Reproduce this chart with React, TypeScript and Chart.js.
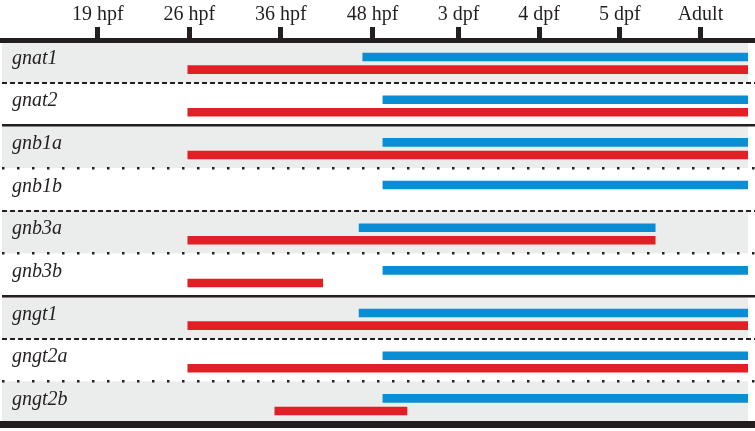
import React, { useEffect, useRef } from "react";
import { Chart, registerables } from "chart.js";

Chart.register(...registerables);

// Developmental stages on the top axis (axis value = stage position)
const STAGE_LABELS = ["19 hpf", "26 hpf", "36 hpf", "48 hpf", "3 dpf", "4 dpf", "5 dpf", "Adult"];
const STAGE_VALUES = [0, 1, 2, 3.0, 3.94, 4.82, 5.7, 6.58];

const GENES = ["gnat1", "gnat2", "gnb1a", "gnb1b", "gnb3a", "gnb3b", "gngt1", "gngt2a", "gngt2b"];

// Blue series (expression window)
const BLUE_START = [2.89, 3.11, 3.11, 3.11, 2.85, 3.11, 2.85, 3.11, 3.11];
const BLUE_END = [7.1, 7.1, 7.1, 7.1, 6.09, 7.1, 7.1, 7.1, 7.1];

// Red series (expression window)
const RED_START = [0.98, 0.98, 0.98, null, 0.98, 0.98, 0.98, 0.98, 1.93];
const RED_END = [7.1, 7.1, 7.1, null, 6.09, 2.46, 7.1, 7.1, 3.38];

// Separator style below each row (except last)
const SEPARATORS = ["dashed", "solid", "dotted", "dashed", "dotted", "solid", "dashed", "dotted"];

const X_MIN = -1.045;
const X_MAX = 7.176;
const BAR_SHIFT = 0.047;

const INK = "#231f20";
const BLUE = "#0a8dd3";
const RED = "#e31e25";
const BAND = "#ebecec";

const bandPlugin = {
  id: "bands",
  beforeDraw(chart: any) {
    const { ctx, chartArea, scales } = chart;
    const y = scales.y;
    const n = GENES.length;
    const h = (chartArea.bottom - chartArea.top) / n;
    ctx.save();
    ctx.fillStyle = BAND;
    for (let i = 0; i < n; i += 2) {
      const c = y.getPixelForValue(i);
      ctx.fillRect(chartArea.left, c - h / 2, chartArea.right - 7 - chartArea.left, h);
    }
    ctx.restore();
  },
};

function toPoints(starts: (number | null)[], ends: (number | null)[]) {
  const out: any[] = [];
  starts.forEach((s, i) => {
    const e = ends[i];
    if (s != null && e != null) out.push({ x: [s, e], y: i });
  });
  return out;
}

const noPad = (s: any) => {
  s.paddingTop = 0;
  s.paddingBottom = 0;
  s.paddingLeft = 0;
  s.paddingRight = 0;
};

export default function App() {
  const ref = useRef<HTMLCanvasElement | null>(null);
  useEffect(() => {
    if (!ref.current) return;
    const chart = new Chart(ref.current, {
      type: "bar",
      data: {
        labels: GENES,
        datasets: [
          {
            label: "blue",
            data: toPoints(BLUE_START, BLUE_END),
            backgroundColor: BLUE,
            borderWidth: 0,
            borderSkipped: false,
            xAxisID: "x",
            yAxisID: "yb",
          },
          {
            label: "red",
            data: toPoints(RED_START, RED_END),
            backgroundColor: RED,
            borderWidth: 0,
            borderSkipped: false,
            xAxisID: "x",
            yAxisID: "yb",
          },
        ],
      },
      options: {
        indexAxis: "y",
        responsive: false,
        animation: false,
        events: [],
        categoryPercentage: 0.59,
        barPercentage: 0.68,
        layout: { padding: { left: 2, right: 0, top: 0, bottom: 7 } },
        plugins: { legend: { display: false }, tooltip: { enabled: false }, title: { display: false } },
        scales: {
          x: {
            type: "linear",
            position: "top",
            min: X_MIN,
            max: X_MAX,
            afterBuildTicks: (s: any) => {
              s.ticks = STAGE_VALUES.map((v) => ({ value: v }));
            },
            afterFit: (s: any) => {
              s.height = 40;
              noPad(s);
            },
            ticks: {
              autoSkip: false,
              maxRotation: 0,
              padding: 0,
              color: INK,
              font: { family: "'Liberation Serif', 'Times New Roman', serif", size: 20 },
              callback: (_v: any, i: number) => STAGE_LABELS[i],
            },
            grid: {
              display: true,
              drawOnChartArea: false,
              drawTicks: true,
              tickLength: 13,
              tickWidth: 5,
              tickColor: INK,
              color: INK,
              lineWidth: 5,
            },
            border: { display: true, width: 5, color: INK },
          },
          x2: {
            type: "linear",
            position: "bottom",
            min: X_MIN,
            max: X_MAX,
            afterFit: (s: any) => {
              s.height = 0;
              noPad(s);
            },
            ticks: { display: false },
            grid: { display: false, drawTicks: false },
            border: { display: true, width: 7, color: INK },
          },
          yb: {
            type: "linear",
            display: false,
            reverse: true,
            offset: false,
            grid: { offset: false },
            min: -0.5 - BAR_SHIFT,
            max: GENES.length - 0.5 - BAR_SHIFT,
            afterBuildTicks: (s: any) => {
              s.ticks = GENES.map((_g, i) => ({ value: i }));
            },
          },
          y: {
            type: "category",
            position: "left",
            offset: true,
            afterFit: (s: any) => {
              s.width = 0;
              noPad(s);
            },
            ticks: {
              mirror: true,
              padding: 10,
              labelOffset: -3,
              color: INK,
              font: { family: "'Liberation Serif', 'Times New Roman', serif", size: 20, style: "italic" },
            },
            grid: {
              offset: true,
              drawTicks: false,
              color: (ctx: any) => {
                const i = ctx.index;
                if (i == null || i === 0 || i > SEPARATORS.length) return "rgba(0,0,0,0)";
                return INK;
              },
              lineWidth: (ctx: any) => {
                const i = ctx.index;
                if (i == null || i === 0 || i > SEPARATORS.length) return 0;
                const st = SEPARATORS[i - 1];
                return st === "dashed" ? 2 : 2.5;
              },
            },
            border: {
              display: false,
              dash: (ctx: any) => {
                const i = ctx.index;
                if (i == null || i === 0 || i > SEPARATORS.length) return [];
                const st = SEPARATORS[i - 1];
                if (st === "dashed") return [5, 3];
                if (st === "dotted") return [2.5, 12.5];
                return [];
              },
            },
          },
        },
      } as any,
      plugins: [bandPlugin],
    });
    return () => chart.destroy();
  }, []);

  return (
    <div style={{ position: "absolute", left: 0, top: 0, width: 755, height: 431, background: "#fff" }}>
      <canvas ref={ref} width={755} height={431} style={{ display: "block" }} />
    </div>
  );
}
